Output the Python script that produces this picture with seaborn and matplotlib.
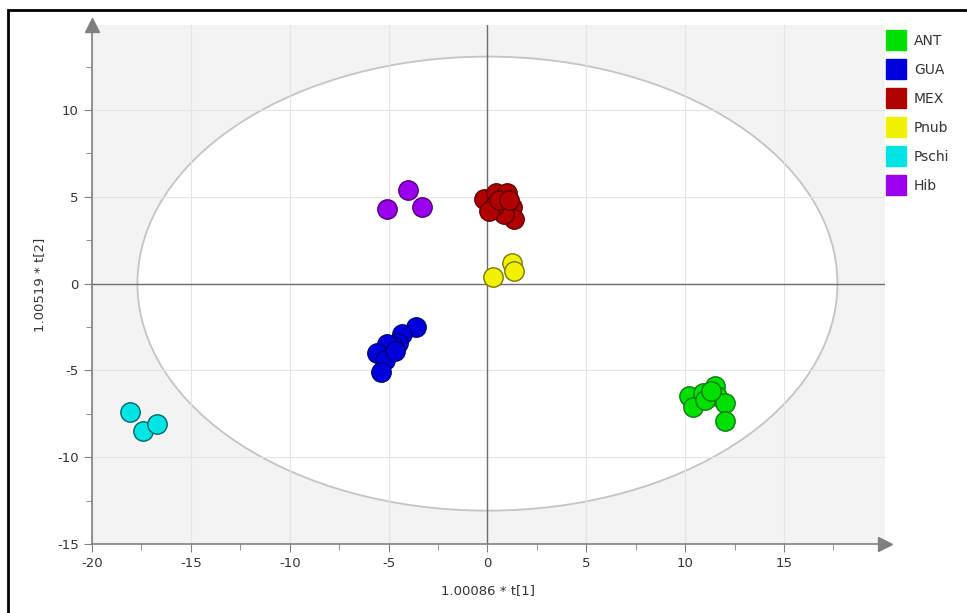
import matplotlib
matplotlib.use("Agg")
import matplotlib.pyplot as plt
from matplotlib.patches import Ellipse, Rectangle
from matplotlib.lines import Line2D
import seaborn as sns
import pandas as pd

plt.rcParams["axes.unicode_minus"] = False

# score values, one pair of lists per group
ant_x = [10.2, 10.4, 10.9, 11.5, 11.6, 11.0, 12.0, 12.0, 11.3]
ant_y = [-6.5, -7.1, -6.3, -5.9, -6.5, -6.7, -6.9, -7.9, -6.2]
gua_x = [-3.6, -4.3, -4.5, -4.8, -5.1, -5.6, -5.2, -5.4, -4.7]
gua_y = [-2.5, -2.9, -3.4, -3.6, -3.5, -4.0, -4.4, -5.1, -3.9]
mex_x = [-0.15, 0.45, 1.0, 1.26, 1.36, 0.86, 0.35, 0.1, 0.6, 1.1]
mex_y = [4.9, 5.2, 5.2, 4.4, 3.74, 4.0, 4.5, 4.2, 4.8, 4.8]
pnub_x = [0.3, 1.26, 1.36]
pnub_y = [0.4, 1.2, 0.7]
pschi_x = [-18.1, -17.4, -16.7]
pschi_y = [-7.4, -8.5, -8.1]
hib_x = [-5.1, -4.0, -3.3]
hib_y = [4.3, 5.4, 4.4]

groups = ["ANT", "GUA", "MEX", "Pnub", "Pschi", "Hib"]
face = ["#00e000", "#0000dd", "#b00000", "#f2f200", "#00e4e4", "#9a00ee"]
edge = ["#107a10", "#00007a", "#600000", "#7a7a00", "#006868", "#50007a"]

xs = [ant_x, gua_x, mex_x, pnub_x, pschi_x, hib_x]
ys = [ant_y, gua_y, mex_y, pnub_y, pschi_y, hib_y]
df = pd.concat([pd.DataFrame({"t1": x, "t2": y, "group": g}) for g, x, y in zip(groups, xs, ys)],
               ignore_index=True)

fig = plt.figure(figsize=(9.67, 6.13), dpi=100)
ax = fig.add_axes([0.0951, 0.1126, 0.82, 0.8466])
ax.set_facecolor("#f3f3f3")

# Hotelling ellipse
ax.add_patch(Ellipse((0, 0), 2 * 17.7, 2 * 13.08, facecolor="white", edgecolor="#c4c4c4", lw=1.3, zorder=0.2))
ax.axhline(0, color="#6e6e6e", lw=1, zorder=1)
ax.axvline(0, color="#6e6e6e", lw=1, zorder=1)

for g, fc, ec in zip(groups, face, edge):
    sns.scatterplot(data=df[df.group == g], x="t1", y="t2", color=fc, edgecolor=ec,
                    linewidth=1, s=195, ax=ax, zorder=3, legend=False)

ax.set_xlim(-20, 20.1)
ax.set_ylim(-15, 14.9)
ax.set_xticks([-20, -15, -10, -5, 0, 5, 10, 15])
ax.set_yticks([-15, -10, -5, 0, 5, 10])
ax.set_xticks([-17.5, -12.5, -7.5, -2.5, 2.5, 7.5, 12.5, 17.5], minor=True)
ax.set_yticks([-12.5, -7.5, -2.5, 2.5, 7.5, 12.5], minor=True)
ax.set_axisbelow(True)
ax.grid(True, which="major", color="#e4e4e4", lw=0.8)
ax.tick_params(which="major", length=6, color="#808080", labelsize=9.5, labelcolor="#333333")
ax.tick_params(which="minor", length=4, color="#808080")

for s in ["top", "right"]:
    ax.spines[s].set_visible(False)
for s in ["left", "bottom"]:
    ax.spines[s].set_color("#808080")
    ax.spines[s].set_linewidth(1.2)
ax.plot(1, 0, ">", color="#808080", ms=10, transform=ax.transAxes, clip_on=False)
ax.plot(0, 1, "^", color="#808080", ms=10, transform=ax.transAxes, clip_on=False)

ax.set_xlabel("1.00086 * t[1]", fontsize=9.5, color="#333333", labelpad=10)
ax.set_ylabel("1.00519 * t[2]", fontsize=9.5, color="#333333", labelpad=8)

handles = [Line2D([], [], marker="s", ls="", color=fc, ms=14) for fc in face]
fig.legend(handles, groups, loc="upper left", bbox_to_anchor=(0.905, 0.965), frameon=False,
           fontsize=10, handletextpad=0.7, labelspacing=1.08, handlelength=1.2, labelcolor="#333333")

# frame around the whole picture
fig.patches.append(Rectangle((0.0083, -0.05), 1.2, 0.9837 + 0.05, transform=fig.transFigure,
                             fill=False, edgecolor="black", lw=2))

fig.savefig("out.png", dpi=100)
